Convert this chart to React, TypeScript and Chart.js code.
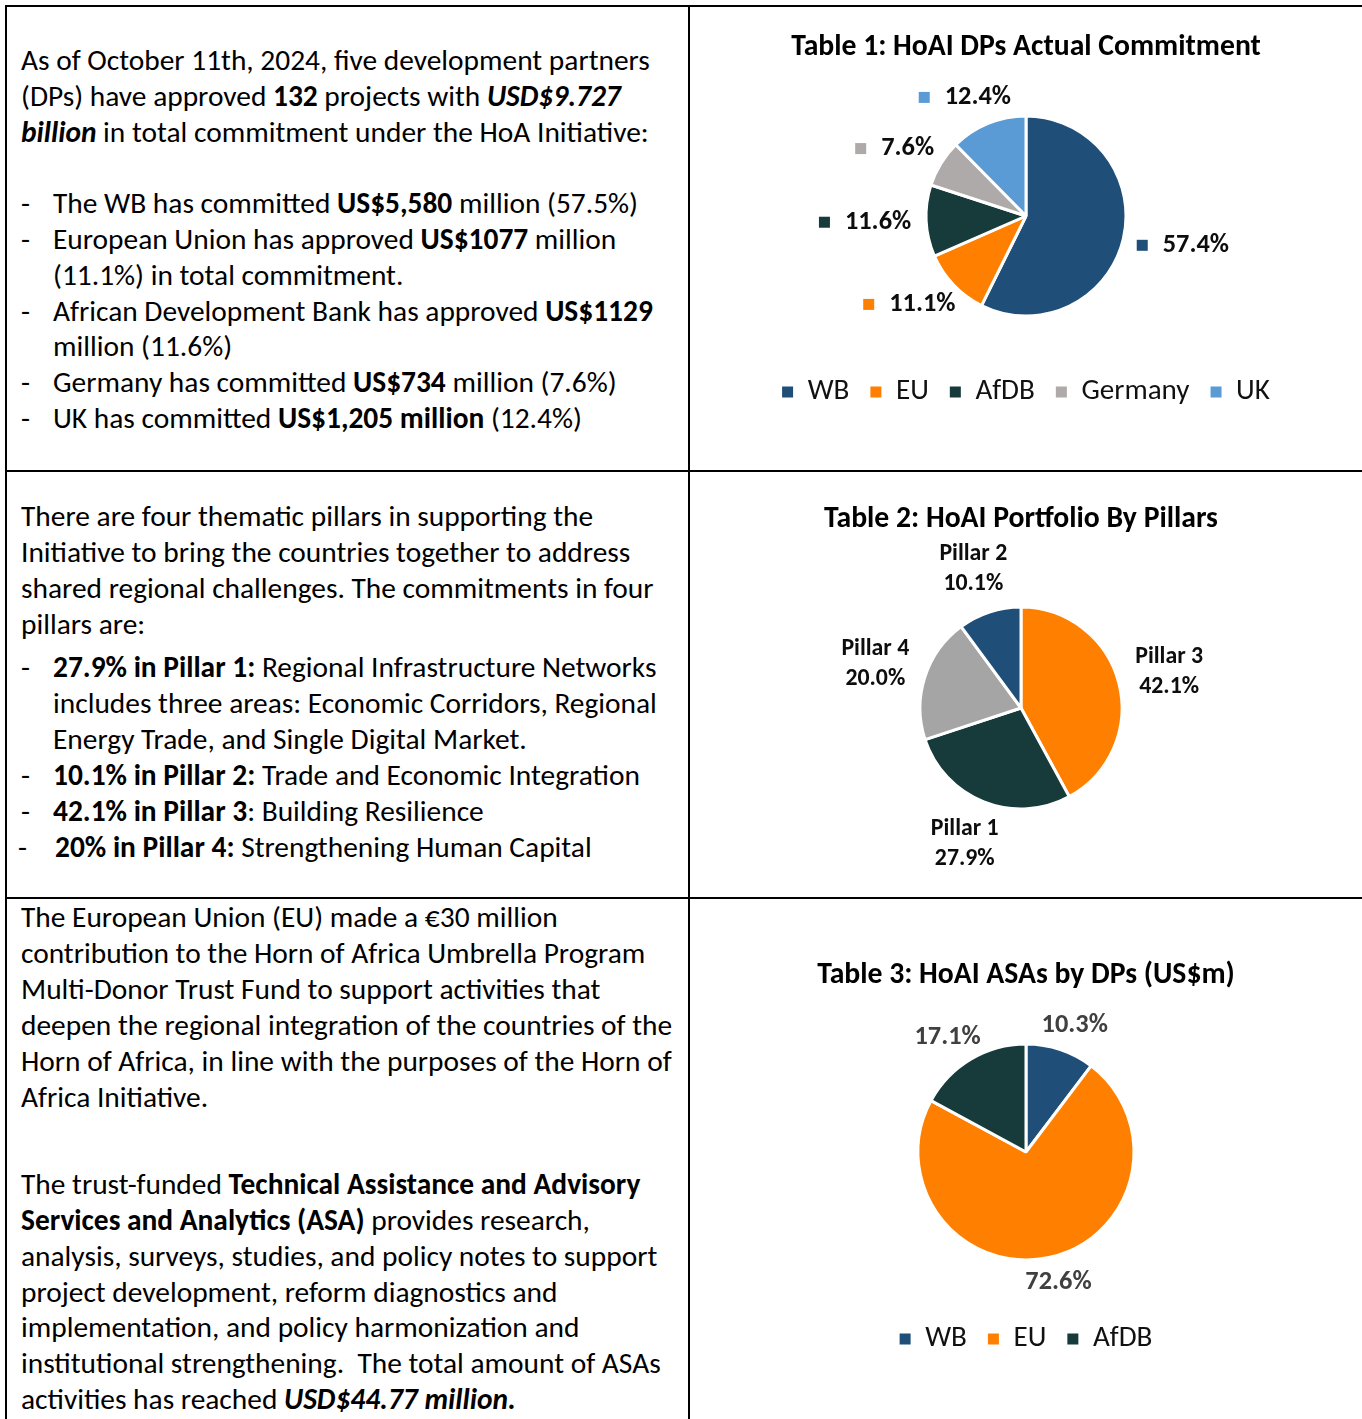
import React, { useEffect, useRef } from 'react';
import { Chart, registerables } from 'chart.js';
Chart.register(...registerables);

const FONT = 'Carlito, Calibri, Lato, sans-serif';

// ---- Table 1: HoAI DPs Actual Commitment (share of total, %)
const dpLabels = ['WB', 'EU', 'AfDB', 'Germany', 'UK'];
const dpShares = [57.4, 11.1, 11.6, 7.6, 12.4];
const dpColors = ['#1F4E79', '#FF8000', '#173B3B', '#AEAAAA', '#5B9BD5'];

// ---- Table 2: HoAI Portfolio By Pillars (%)
const pillarLabels = ['Pillar 3', 'Pillar 1', 'Pillar 4', 'Pillar 2'];
const pillarShares = [42.1, 27.9, 20.0, 10.1];
const pillarColors = ['#FF8000', '#173B3B', '#A5A5A5', '#1F4E79'];

// ---- Table 3: HoAI ASAs by DPs (%)
const asaLabels = ['WB', 'EU', 'AfDB'];
const asaShares = [10.3, 72.6, 17.1];
const asaColors = ['#1F4E79', '#FF8000', '#173B3B'];

const titles = [
  'Table 1: HoAI DPs Actual Commitment',
  'Table 2: HoAI Portfolio By Pillars',
  'Table 3: HoAI ASAs by DPs (US$m)',
];

type Seg = [string, string];
type Line = { y: number; x: number; dash?: number; segs: Seg[] };

const textLines: Line[] = [
  { y: 60, x: 21, segs: [['As of October 11th, 2024, five development partners', 'n']] },
  { y: 96, x: 21, segs: [['(DPs) have approved ', 'n'], ['132', 'b'], [' projects with ', 'n'], ['USD$9.727', 'bi']] },
  { y: 132, x: 21, segs: [['billion', 'bi'], [' in total commitment under the HoA Initiative:', 'n']] },
  { y: 203, dash: 21, x: 53, segs: [['The WB has committed ', 'n'], ['US$5,580', 'b'], [' million (57.5%)', 'n']] },
  { y: 239, dash: 21, x: 53, segs: [['European Union has approved ', 'n'], ['US$1077', 'b'], [' million', 'n']] },
  { y: 275, x: 53, segs: [['(11.1%) in total commitment.', 'n']] },
  { y: 311, dash: 21, x: 53, segs: [['African Development Bank has approved ', 'n'], ['US$1129', 'b']] },
  { y: 346, x: 53, segs: [['million (11.6%)', 'n']] },
  { y: 382, dash: 21, x: 53, segs: [['Germany has committed ', 'n'], ['US$734', 'b'], [' million (7.6%)', 'n']] },
  { y: 418, dash: 21, x: 53, segs: [['UK has committed ', 'n'], ['US$1,205 million', 'b'], [' (12.4%)', 'n']] },

  { y: 516, x: 21, segs: [['There are four thematic pillars in supporting the', 'n']] },
  { y: 552, x: 21, segs: [['Initiative to bring the countries together to address', 'n']] },
  { y: 588, x: 21, segs: [['shared regional challenges. The commitments in four', 'n']] },
  { y: 624, x: 21, segs: [['pillars are:', 'n']] },
  { y: 667, dash: 21, x: 53, segs: [['27.9% in Pillar 1:', 'b'], [' Regional Infrastructure Networks', 'n']] },
  { y: 703, x: 53, segs: [['includes three areas: Economic Corridors, Regional', 'n']] },
  { y: 739, x: 53, segs: [['Energy Trade, and Single Digital Market.', 'n']] },
  { y: 775, dash: 21, x: 53, segs: [['10.1% in Pillar 2:', 'b'], [' Trade and Economic Integration', 'n']] },
  { y: 811, dash: 21, x: 53, segs: [['42.1% in Pillar 3', 'b'], [': Building Resilience', 'n']] },
  { y: 847, dash: 18, x: 55, segs: [['20% in Pillar 4:', 'b'], [' Strengthening Human Capital', 'n']] },

  { y: 917, x: 21, segs: [['The European Union (EU) made a €30 million', 'n']] },
  { y: 953, x: 21, segs: [['contribution to the Horn of Africa Umbrella Program', 'n']] },
  { y: 989, x: 21, segs: [['Multi-Donor Trust Fund to support activities that', 'n']] },
  { y: 1025, x: 21, segs: [['deepen the regional integration of the countries of the', 'n']] },
  { y: 1061, x: 21, segs: [['Horn of Africa, in line with the purposes of the Horn of', 'n']] },
  { y: 1097, x: 21, segs: [['Africa Initiative.', 'n']] },
  { y: 1184, x: 21, segs: [['The trust-funded ', 'n'], ['Technical Assistance and Advisory', 'b']] },
  { y: 1220, x: 21, segs: [['Services and Analytics (ASA)', 'b'], [' provides research,', 'n']] },
  { y: 1256, x: 21, segs: [['analysis, surveys, studies, and policy notes to support', 'n']] },
  { y: 1292, x: 21, segs: [['project development, reform diagnostics and', 'n']] },
  { y: 1327, x: 21, segs: [['implementation, and policy harmonization and', 'n']] },
  { y: 1363, x: 21, segs: [['institutional strengthening.  The total amount of ASAs', 'n']] },
  { y: 1399, x: 21, segs: [['activities has reached ', 'n'], ['USD$44.77 million.', 'bi']] },
];

let scaleCache: { kR: number; kB: number } | null = null;
function getScale() {
  if (scaleCache) return scaleCache;
  const ctx = document.createElement('canvas').getContext('2d')!;
  ctx.font = `29.3px ${FONT}`;
  const wR = ctx.measureText('As of October 11th, 2024, five development partners').width;
  ctx.font = `bold 29.3px ${FONT}`;
  const wB = ctx.measureText('Table 2: HoAI Portfolio By Pillars').width;
  scaleCache = { kR: wR > 0 ? 629 / wR : 1, kB: wB > 0 ? 394 / wB : 1 };
  return scaleCache;
}

// Data labels placed just outside the slice edge, along the slice's middle angle
const sliceLabelPlugin = {
  id: 'sliceLabels',
  afterDatasetsDraw(chart: any, _args: any, opts: any) {
    const { ctx } = chart;
    const meta = chart.getDatasetMeta(0);
    const ds = chart.data.datasets[0];
    ctx.save();
    ctx.font = `bold ${opts.size}px ${FONT}`;
    ctx.textBaseline = 'middle';
    meta.data.forEach((arc: any, i: number) => {
      const p = arc.getProps(['x', 'y', 'startAngle', 'endAngle', 'outerRadius'], true);
      const mid = (p.startAngle + p.endAngle) / 2;
      const pct = Number(ds.data[i]).toFixed(1) + '%';
      const lines = opts.showName ? [String(chart.data.labels[i]), pct] : [pct];
      const widths = lines.map((t: string) => ctx.measureText(t).width);
      const m = opts.marker ? opts.markerSize + opts.markerGap : 0;
      const boxW = Math.max(...widths) + m;
      const boxH = (lines.length - 1) * opts.lineHeight + opts.size;
      const c = Math.cos(mid);
      const s = Math.sin(mid);
      const px = p.x + c * (p.outerRadius + opts.gap + boxW / 2);
      const py = p.y + s * (p.outerRadius + opts.gap + boxH / 2);
      lines.forEach((t: string, j: number) => {
        const ty = py + (j - (lines.length - 1) / 2) * opts.lineHeight;
        const w = widths[j];
        if (opts.marker) {
          const left = px - (m + w) / 2;
          ctx.fillStyle = ds.backgroundColor[i];
          ctx.fillRect(left, ty - opts.markerSize / 2, opts.markerSize, opts.markerSize);
          ctx.fillStyle = opts.color;
          ctx.textAlign = 'left';
          ctx.fillText(t, left + m, ty);
        } else {
          ctx.fillStyle = opts.color;
          ctx.textAlign = 'center';
          ctx.fillText(t, px, ty);
        }
      });
    });
    ctx.restore();
  },
};

type PieSpec = {
  left: number; top: number; w: number; h: number;
  title: string; titleCenter: number;
  labels: string[]; values: number[]; colors: string[];
  pieCenterY: number; radius: number; padRight: number;
  legendCenter: number | null;
  label: { gap: number; size: number; lineHeight: number; color: string; marker: boolean; showName: boolean };
};

function PieChart({ spec }: { spec: PieSpec }) {
  const ref = useRef<HTMLCanvasElement>(null);
  useEffect(() => {
    const { kR, kB } = getScale();
    const titleSize = 29.3 * kB;
    const lhT = titleSize * 1.2;
    const pTop = spec.titleCenter - spec.top - lhT / 2;
    const legendSize = 29 * kR;
    const legendPad = 21;
    let pBot = 10;
    let padBottom = 0;
    if (spec.legendCenter != null) {
      const B = spec.legendCenter - legendPad - legendSize / 2;
      padBottom = spec.top + spec.h - (B + legendSize + legendPad + 10);
      const T = 2 * spec.pieCenterY - B;
      pBot = T - (spec.top + pTop + lhT);
    } else {
      const T = spec.top + pTop + lhT + pBot;
      const B = 2 * spec.pieCenterY - T;
      padBottom = spec.top + spec.h - B;
    }
    const baseGen = (Chart as any).overrides.pie.plugins.legend.labels.generateLabels;
    const chart = new Chart(ref.current!, {
      type: 'pie',
      data: {
        labels: spec.labels,
        datasets: [{
          data: spec.values,
          backgroundColor: spec.colors,
          borderColor: '#ffffff',
          borderWidth: 3,
          radius: spec.radius,
        } as any],
      },
      options: {
        responsive: false,
        animation: false,
        devicePixelRatio: 1,
        radius: spec.radius,
        layout: { padding: { top: 0, left: 0, right: spec.padRight, bottom: padBottom } },
        plugins: {
          title: {
            display: true,
            text: spec.title,
            color: '#000000',
            font: { family: FONT, size: titleSize, weight: 'bold', lineHeight: 1.2 },
            padding: { top: pTop, bottom: pBot },
          },
          legend: {
            display: spec.legendCenter != null,
            position: 'bottom',
            labels: {
              boxWidth: 11,
              boxHeight: 11,
              padding: legendPad,
              color: '#111111',
              font: { family: FONT, size: legendSize },
              generateLabels: (c: any) => baseGen(c).map((l: any) => ({ ...l, lineWidth: 0 })),
            },
          },
          tooltip: { enabled: false },
          sliceLabels: {
            ...spec.label,
            size: spec.label.size * kB,
            markerSize: 11,
            markerGap: 15,
          },
        } as any,
      } as any,
      plugins: [sliceLabelPlugin as any],
    });
    return () => chart.destroy();
  }, []);
  return (
    <canvas
      ref={ref}
      width={spec.w}
      height={spec.h}
      style={{ position: 'absolute', left: spec.left, top: spec.top, width: spec.w, height: spec.h }}
    />
  );
}

const segStyle = (s: string): React.CSSProperties => ({
  fontWeight: s.includes('b') ? 700 : 400,
  fontStyle: s.includes('i') ? 'italic' : 'normal',
});

export default function App() {
  const { kR } = getScale();
  const fs = 29.3 * kR;
  const line = (l: Line, i: number) => (
    <React.Fragment key={i}>
      {l.dash != null && (
        <div style={{ position: 'absolute', left: l.dash, top: l.y - 18, height: 36, lineHeight: '36px', fontSize: fs, whiteSpace: 'pre' }}>-</div>
      )}
      <div style={{ position: 'absolute', left: l.x, top: l.y - 18, height: 36, lineHeight: '36px', fontSize: fs, whiteSpace: 'pre' }}>
        {l.segs.map((s, j) => (
          <span key={j} style={segStyle(s[1])}>{s[0]}</span>
        ))}
      </div>
    </React.Fragment>
  );
  const border = (left: number, top: number, width: number, height: number) => (
    <div style={{ position: 'absolute', left, top, width, height, background: '#000', zIndex: 5 }} />
  );
  const specs: PieSpec[] = [
    {
      left: 690, top: 7, w: 672, h: 463, title: titles[0], titleCenter: 48,
      labels: dpLabels, values: dpShares, colors: dpColors,
      pieCenterY: 216, radius: 100, padRight: 0, legendCenter: 392,
      label: { gap: 15, size: 26, lineHeight: 30, color: '#0d0d0d', marker: true, showName: false },
    },
    {
      left: 690, top: 472, w: 672, h: 425, title: titles[1], titleCenter: 520,
      labels: pillarLabels, values: pillarShares, colors: pillarColors,
      pieCenterY: 708, radius: 101, padRight: 10, legendCenter: null,
      label: { gap: 18, size: 23.5, lineHeight: 30, color: '#0d0d0d', marker: false, showName: true },
    },
    {
      left: 690, top: 899, w: 672, h: 520, title: titles[2], titleCenter: 976,
      labels: asaLabels, values: asaShares, colors: asaColors,
      pieCenterY: 1152, radius: 108, padRight: 0, legendCenter: 1339,
      label: { gap: 12, size: 26, lineHeight: 30, color: '#404040', marker: false, showName: false },
    },
  ];
  return (
    <div style={{ position: 'absolute', left: 0, top: 0, width: 1362, height: 1419, overflow: 'hidden', background: '#fff', fontFamily: FONT, color: '#000' }}>
      {textLines.map(line)}
      {specs.map((s, i) => <PieChart key={i} spec={s} />)}
      {border(5, 5, 1357, 2)}
      {border(5, 5, 2, 1414)}
      {border(688, 5, 2, 1414)}
      {border(5, 470, 1357, 2)}
      {border(5, 897, 1357, 2)}
    </div>
  );
}
